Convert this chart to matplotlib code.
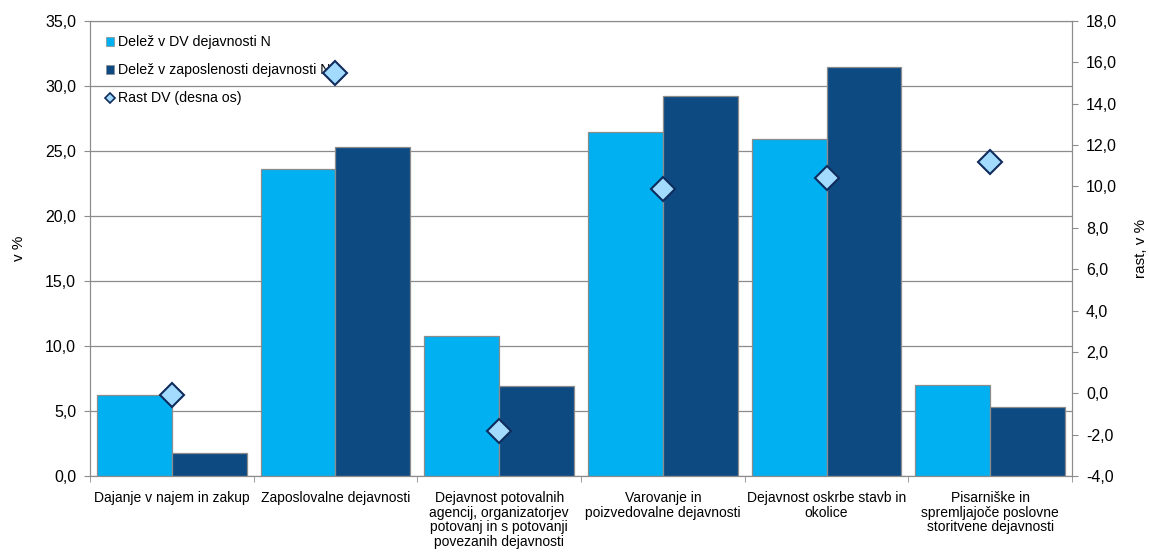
import matplotlib
matplotlib.use('Agg')
import matplotlib.pyplot as plt
import numpy as np
from matplotlib.patches import Patch
from matplotlib.lines import Line2D

plt.rcParams['font.family'] = ['Liberation Sans', 'DejaVu Sans']

# podatki
kategorije = ['Dajanje v najem in zakup',
              'Zaposlovalne dejavnosti',
              'Dejavnost potovalnih\nagencij, organizatorjev\npotovanj in s potovanji\npovezanih dejavnosti',
              'Varovanje in\npoizvedovalne dejavnosti',
              'Dejavnost oskrbe stavb in\nokolice',
              'Pisarniške in\nspremljajoče poslovne\nstoritvene dejavnosti']
delez_dv = [6.2, 23.6, 10.8, 26.5, 25.9, 7.0]
delez_zap = [1.8, 25.3, 6.9, 29.2, 31.5, 5.3]
rast_dv = [-0.1, 15.5, -1.8, 9.9, 10.4, 11.2]

leve_oznake = [f'{v:.1f}'.replace('.', ',') for v in np.arange(0, 35.1, 5)]
desne_oznake = [f'{v:.1f}'.replace('.', ',') for v in np.arange(-4, 18.1, 2)]

svetla = '#00b0f0'
temna = '#0e4a82'
siva = '#8c8c8c'

fig = plt.figure(figsize=(11.49, 5.6), dpi=100)
ax = fig.add_axes([0.0783, 0.15, 0.8547, 0.8125])

x = np.arange(len(kategorije))
w = 0.458
ax.bar(x - w/2, delez_dv, w, color=svetla, edgecolor=siva, lw=0.9, zorder=3)
ax.bar(x + w/2, delez_zap, w, color=temna, edgecolor=siva, lw=0.9, zorder=3)

ax.set_xlim(-0.5, len(kategorije) - 0.5)
ax.set_ylim(0, 35)
ax.set_yticks(np.arange(0, 35.1, 5))
ax.set_yticklabels(leve_oznake, fontsize=11.5)
ax.yaxis.grid(True, color=siva, lw=0.9, zorder=0)
ax.set_ylabel('v %', fontsize=11, labelpad=14)

# oznake kategorij na sredini, crtice na mejah
ax.set_xticks(x)
ax.set_xticklabels(kategorije, fontsize=10, linespacing=1.05, va='top')
ax.tick_params(axis='x', which='major', length=0, pad=11)
ax.set_xticks(np.arange(-0.5, len(kategorije)), minor=True)
ax.tick_params(axis='x', which='minor', length=4, color=siva)
ax.tick_params(axis='y', length=4, color=siva, pad=6)

for s in ax.spines.values():
    s.set_color(siva)

# desna os - rast
ax2 = ax.twinx()
ax2.plot(x, rast_dv, 'D', ms=12.5, mfc='#a3dbff', mec='#0f2c5c', mew=1.5,
         linestyle='none', zorder=5)
ax2.set_ylim(-4, 18)
ax2.set_yticks(np.arange(-4, 18.1, 2))
ax2.set_yticklabels(desne_oznake, fontsize=11.5)
ax2.tick_params(axis='y', length=4, color=siva, pad=6)
ax2.set_ylabel('rast, v %', fontsize=11, labelpad=12)
for s in ax2.spines.values():
    s.set_color(siva)

# legenda
roc = [Patch(facecolor=svetla, edgecolor=siva, lw=0.5),
       Patch(facecolor=temna, edgecolor=siva, lw=0.5),
       Line2D([], [], marker='D', ms=5, mfc='#a3dbff', mec='#0f2c5c',
              mew=1.2, linestyle='none')]
ax.legend(roc, ['Delež v DV dejavnosti N',
                'Delež v zaposlenosti dejavnosti N',
                'Rast DV (desna os)'],
          loc='upper left', bbox_to_anchor=(0.003, 0.997), frameon=False,
          fontsize=10.2, handlelength=0.6, handleheight=0.6, handletextpad=0.3,
          labelspacing=1.0)

plt.savefig('out.png', dpi=100)
